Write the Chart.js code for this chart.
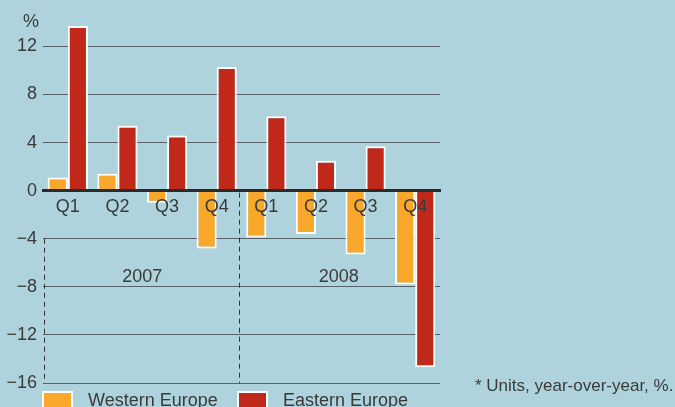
<!DOCTYPE html>
<html><head><meta charset="utf-8">
<script src="https://cdn.jsdelivr.net/npm/chart.js@4"></script>
<style>
html,body{margin:0;padding:0;background:#aed3dc;overflow:hidden;}
#wrap{width:675px;height:407px;position:relative;}
canvas{display:block;}
</style></head><body>
<div id="wrap"><canvas id="c" width="675" height="407"></canvas></div>
<script>
const categories = ['Q1','Q2','Q3','Q4','Q1','Q2','Q3','Q4'];
const years = ['2007','2008'];
const westernEurope = [1.1, 1.4, -1.0, -4.8, -3.9, -3.6, -5.3, -7.8];
const easternEurope = [13.7, 5.4, 4.6, 10.3, 6.2, 2.5, 3.7, -14.7];
const yTicks = [12, 8, 4, 0, -4, -8, -12, -16];
const seriesNames = ['Western Europe', 'Eastern Europe'];
const unitLabel = '%';
const footnote = '* Units, year-over-year, %.';

const FONT = '"Liberation Sans", Arial, Helvetica, sans-serif';
const TXT = '#3a3a3a';
const ORANGE = '#f9a82b';
const RED = '#c0291a';

const overlay = {
  id: 'overlay',
  afterDraw(chart) {
    const {ctx, chartArea: a, scales: {x, y}} = chart;
    ctx.save();
    // dashed separators
    ctx.strokeStyle = '#333';
    ctx.lineWidth = 1;
    ctx.setLineDash([5, 4]);
    const xl = Math.round(a.left) + 1.5;
    ctx.beginPath();
    ctx.moveTo(xl, y.getPixelForValue(-4));
    ctx.lineTo(xl, y.getPixelForValue(-16));
    ctx.stroke();
    const xm = Math.round((x.getPixelForValue(3) + x.getPixelForValue(4)) / 2) - 2.5;
    ctx.beginPath();
    ctx.moveTo(xm, y.getPixelForValue(0) + 2);
    ctx.lineTo(xm, y.getPixelForValue(-16));
    ctx.stroke();
    ctx.setLineDash([]);
    // texts
    ctx.fillStyle = TXT;
    ctx.font = '18px ' + FONT;
    ctx.textAlign = 'center';
    ctx.textBaseline = 'middle';
    ctx.fillText(unitLabel, 31, 22);
    const yy = y.getPixelForValue(-7.2);
    ctx.fillText(years[0], (x.getPixelForValue(1) + x.getPixelForValue(2)) / 2, yy);
    ctx.fillText(years[1], (x.getPixelForValue(5) + x.getPixelForValue(6)) / 2 - 2, yy);
    // footnote
    ctx.font = '17px ' + FONT;
    ctx.textAlign = 'left';
    ctx.fillText(footnote, 475, 386);
    // legend
    const lx = [42, 237];
    chart.data.datasets.forEach((ds, i) => {
      ctx.fillStyle = '#ffffff';
      ctx.fillRect(lx[i], 391, 31, 30);
      ctx.fillStyle = ds.backgroundColor;
      ctx.fillRect(lx[i] + 2, 393, 27, 26);
      ctx.fillStyle = TXT;
      ctx.font = '18px ' + FONT;
      ctx.textBaseline = 'alphabetic';
      ctx.fillText(ds.label, lx[i] + 46, 406);
    });
    ctx.restore();
  }
};

new Chart(document.getElementById('c'), {
  type: 'bar',
  data: {
    labels: categories,
    datasets: [
      {label: seriesNames[0], data: westernEurope, backgroundColor: ORANGE, borderColor: '#ffffff', borderWidth: 2},
      {label: seriesNames[1], data: easternEurope, backgroundColor: RED, borderColor: '#ffffff', borderWidth: 2}
    ]
  },
  options: {
    responsive: false,
    animation: false,
    devicePixelRatio: 1,
    categoryPercentage: 0.81,
    barPercentage: 1.0,
    layout: {padding: {left: 0, right: 235, top: 20, bottom: 24}},
    plugins: {legend: {display: false}, tooltip: {enabled: false}},
    scales: {
      x: {
        position: {y: 0},
        grid: {display: false, drawTicks: false},
        border: {display: true, color: '#2a2a2a', width: 3, z: 1},
        ticks: {z: 1, color: TXT, font: {family: FONT, size: 18}, padding: 6, maxRotation: 0}
      },
      y: {
        min: -16,
        max: 14.2,
        afterFit: s => { s.width = 43; },
        afterBuildTicks: s => { s.ticks = yTicks.map(v => ({value: v})); },
        grid: {
          drawTicks: false,
          color: c => (c.tick && c.tick.value === 0) ? 'rgba(0,0,0,0)' : '#56626a',
          lineWidth: 1
        },
        border: {display: false},
        ticks: {
          color: TXT,
          font: {family: FONT, size: 18},
          padding: 6,
          callback: v => String(v).replace('-', '\u2212')
        }
      }
    }
  },
  plugins: [overlay]
});
</script>
</body></html>
